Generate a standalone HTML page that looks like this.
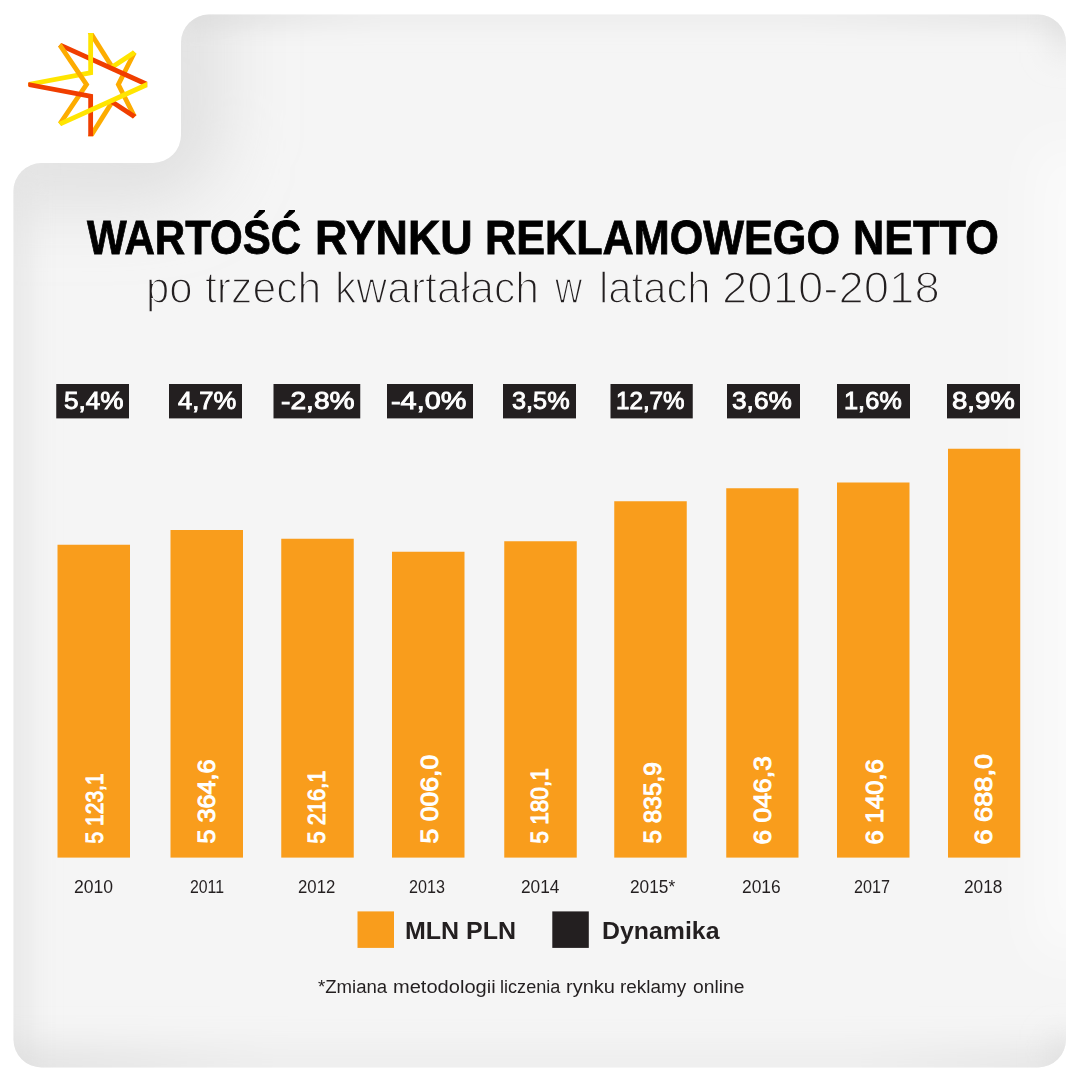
<!DOCTYPE html>
<html><head><meta charset="utf-8"><title>Wartość rynku reklamowego netto</title>
<style>
html,body{margin:0;padding:0;background:#fff}
body{width:1080px;height:1080px;position:relative;overflow:hidden;font-family:"Liberation Sans",sans-serif}
svg{position:absolute;left:0;top:0}
.t{position:absolute;white-space:nowrap;transform-origin:0 0;margin:0;padding:0}
</style></head><body>
<svg width="1080" height="1080" viewBox="0 0 1080 1080">
<defs>
<clipPath id="cc"><path d="M209 14.5 H1038 A28 28 0 0 1 1066 42.5 V1039.5 A28 28 0 0 1 1038 1067.5 H41.5 A28 28 0 0 1 13.5 1039.5 V191 A28 28 0 0 1 41.5 163 H153 A28 28 0 0 0 181 135 V42.5 A28 28 0 0 1 209 14.5 Z"/></clipPath>
<filter id="bl" filterUnits="userSpaceOnUse" x="-60" y="-60" width="1200" height="1200"><feGaussianBlur stdDeviation="16"/></filter>
<filter id="bl3" filterUnits="userSpaceOnUse" x="-150" y="-150" width="1400" height="1400"><feGaussianBlur stdDeviation="40"/></filter>
<filter id="bl4" filterUnits="userSpaceOnUse" x="-60" y="-60" width="1200" height="1200"><feGaussianBlur stdDeviation="20"/></filter>
<filter id="bl5" filterUnits="userSpaceOnUse" x="-100" y="-100" width="1300" height="1300"><feGaussianBlur stdDeviation="24"/></filter>
<filter id="bl2" filterUnits="userSpaceOnUse" x="-60" y="-60" width="1200" height="1200"><feGaussianBlur stdDeviation="12"/></filter>
<linearGradient id="tg" gradientUnits="userSpaceOnUse" x1="181" y1="0" x2="1066" y2="0">
<stop offset="0" stop-color="#d6d6d6"/><stop offset="0.22" stop-color="#e9e9e9"/><stop offset="0.7" stop-color="#e9e9e9"/><stop offset="1" stop-color="#dcdcdc"/></linearGradient>
<linearGradient id="bg" gradientUnits="userSpaceOnUse" x1="13" y1="0" x2="1066" y2="0">
<stop offset="0" stop-color="#d4d4d4"/><stop offset="0.25" stop-color="#e8e8e8"/><stop offset="0.8" stop-color="#e8e8e8"/><stop offset="1" stop-color="#dadada"/></linearGradient>
</defs>
<path d="M209 14.5 H1038 A28 28 0 0 1 1066 42.5 V1039.5 A28 28 0 0 1 1038 1067.5 H41.5 A28 28 0 0 1 13.5 1039.5 V191 A28 28 0 0 1 41.5 163 H153 A28 28 0 0 0 181 135 V42.5 A28 28 0 0 1 209 14.5 Z" fill="#f5f5f5"/>
<g clip-path="url(#cc)">
<path d="M181 -40 V135 A28 28 0 0 1 153 163 H-40" fill="none" stroke="#c8c8c8" stroke-opacity="0.66" stroke-width="60" filter="url(#bl3)"/>
<path d="M13.5 175 V1090" fill="none" stroke="#e2e2e2" stroke-width="24" filter="url(#bl)"/>
<path d="M181 14.5 H1090" fill="none" stroke="url(#tg)" stroke-width="18" filter="url(#bl2)"/>
<path d="M-10 1067.5 H1090" fill="none" stroke="url(#bg)" stroke-width="26" filter="url(#bl4)"/>
<path d="M1066 -20 V52" fill="none" stroke="#dcdcdc" stroke-width="22" filter="url(#bl)"/>
<path d="M1066 1100 V1040" fill="none" stroke="#dcdcdc" stroke-width="22" filter="url(#bl)"/>
<path d="M1066 150 V950" fill="none" stroke="#fff" stroke-opacity="0.65" stroke-width="50" filter="url(#bl5)"/>
</g>
<rect x="57.5" y="544.75" width="72.5" height="312.85" fill="#f99d1c"/><rect x="170.5" y="530" width="72.5" height="327.6" fill="#f99d1c"/><rect x="281.25" y="538.75" width="72.5" height="318.85" fill="#f99d1c"/><rect x="392" y="551.75" width="72.5" height="305.85" fill="#f99d1c"/><rect x="504.25" y="541.25" width="72.5" height="316.35" fill="#f99d1c"/><rect x="614.25" y="501.25" width="72.5" height="356.35" fill="#f99d1c"/><rect x="726.25" y="488.25" width="72.25" height="369.35" fill="#f99d1c"/><rect x="837" y="482.5" width="72.5" height="375.1" fill="#f99d1c"/><rect x="948" y="448.75" width="72.25" height="408.85" fill="#f99d1c"/><rect x="56.25" y="384" width="72.75" height="34.4" fill="#231f20"/><rect x="169" y="384" width="73" height="34.4" fill="#231f20"/><rect x="273.5" y="384" width="86.75" height="34.4" fill="#231f20"/><rect x="387" y="384" width="86" height="34.4" fill="#231f20"/><rect x="503" y="384" width="73" height="34.4" fill="#231f20"/><rect x="610.5" y="384" width="82.25" height="34.4" fill="#231f20"/><rect x="727" y="384" width="73" height="34.4" fill="#231f20"/><rect x="837" y="384" width="73" height="34.4" fill="#231f20"/><rect x="947" y="384" width="73" height="34.4" fill="#231f20"/><rect x="357.5" y="911.4" width="36.5" height="36.5" fill="#f99d1c"/><rect x="552.3" y="911.4" width="36.5" height="36.5" fill="#231f20"/>
<g><polygon points="87.81,32.90 110.57,68.98 114.63,66.42 93.49,32.90" fill="#fdac00"/><polygon points="93.49,136.20 114.63,102.58 110.57,100.02 87.81,136.20" fill="#fdac00"/><polygon points="132.80,50.43 115.66,84.50 132.80,118.57 136.45,115.14 121.04,84.50 136.45,53.86" fill="#fdac00"/><polygon points="132.90,50.52 110.17,65.60 112.83,69.60 136.49,53.89" fill="#ffe500"/><polygon points="136.49,115.11 112.83,99.40 110.17,103.40 132.90,118.48" fill="#f03e00"/><polygon points="58.13,46.82 147.20,87.13 147.20,81.87 61.31,42.99" fill="#f03e00"/><polygon points="28.80,86.83 93.05,74.69 93.05,32.90 88.25,32.90 88.25,70.71 29.02,81.90 28.20,82.89 28.20,86.11" fill="#ffe500"/><polygon points="58.12,46.84 83.60,84.50 58.12,122.16 61.31,126.01 89.40,84.50 61.31,42.99" fill="#fdac00"/><polygon points="29.02,87.10 88.25,98.29 88.25,136.20 93.05,136.20 93.05,94.31 28.80,82.17 28.20,82.89 28.20,86.11" fill="#f03e00"/><polygon points="61.31,126.01 147.20,87.13 147.20,81.87 58.13,122.18" fill="#ffe500"/></g>
</svg>
<div class="t" style="left:87.40px;top:212.81px;font-size:48.3px;line-height:48.3px;font-weight:bold;color:#000;-webkit-text-stroke:0.8px #000;transform:scaleX(0.8709)">WARTOŚĆ</div>
<div class="t" style="left:315.12px;top:212.81px;font-size:48.3px;line-height:48.3px;font-weight:bold;color:#000;-webkit-text-stroke:0.8px #000;transform:scaleX(0.9277)">RYNKU</div>
<div class="t" style="left:484.72px;top:212.81px;font-size:48.3px;line-height:48.3px;font-weight:bold;color:#000;-webkit-text-stroke:0.8px #000;transform:scaleX(0.8941)">REKLAMOWEGO</div>
<div class="t" style="left:853.46px;top:212.81px;font-size:48.3px;line-height:48.3px;font-weight:bold;color:#000;-webkit-text-stroke:0.8px #000;transform:scaleX(0.8956)">NETTO</div>
<div class="t" style="left:146.04px;top:266.05px;font-size:44px;line-height:44px;font-weight:normal;color:#231f20;-webkit-text-stroke:1.6px #f5f5f5;transform:scaleX(0.9534)">po</div>
<div class="t" style="left:205.45px;top:266.05px;font-size:44px;line-height:44px;font-weight:normal;color:#231f20;-webkit-text-stroke:1.6px #f5f5f5;transform:scaleX(0.9702)">trzech</div>
<div class="t" style="left:335.26px;top:266.05px;font-size:44px;line-height:44px;font-weight:normal;color:#231f20;-webkit-text-stroke:1.6px #f5f5f5;transform:scaleX(0.9697)">kwartałach</div>
<div class="t" style="left:555.06px;top:266.05px;font-size:44px;line-height:44px;font-weight:normal;color:#231f20;-webkit-text-stroke:1.6px #f5f5f5;transform:scaleX(0.8591)">w</div>
<div class="t" style="left:598.55px;top:266.05px;font-size:44px;line-height:44px;font-weight:normal;color:#231f20;-webkit-text-stroke:1.6px #f5f5f5;transform:scaleX(0.9505)">latach</div>
<div class="t" style="left:722.13px;top:266.05px;font-size:44px;line-height:44px;font-weight:normal;color:#231f20;-webkit-text-stroke:1.6px #f5f5f5;transform:scaleX(1.0346)">2010-2018</div>
<div class="t" style="left:64.05px;top:388.75px;font-size:24.4px;line-height:24.4px;font-weight:normal;color:#fff;-webkit-text-stroke:0.9px #fff;transform:scaleX(1.0727)">5,4%</div>
<div class="t" style="left:177.80px;top:388.75px;font-size:24.4px;line-height:24.4px;font-weight:normal;color:#fff;-webkit-text-stroke:0.9px #fff;transform:scaleX(1.0500)">4,7%</div>
<div class="t" style="left:281.14px;top:388.75px;font-size:24.4px;line-height:24.4px;font-weight:normal;color:#fff;-webkit-text-stroke:0.9px #fff;transform:scaleX(1.1551)">-2,8%</div>
<div class="t" style="left:390.87px;top:388.75px;font-size:24.4px;line-height:24.4px;font-weight:normal;color:#fff;-webkit-text-stroke:0.9px #fff;transform:scaleX(1.1833)">-4,0%</div>
<div class="t" style="left:512.30px;top:388.75px;font-size:24.4px;line-height:24.4px;font-weight:normal;color:#fff;-webkit-text-stroke:0.9px #fff;transform:scaleX(1.0363)">3,5%</div>
<div class="t" style="left:616.06px;top:388.75px;font-size:24.4px;line-height:24.4px;font-weight:normal;color:#fff;-webkit-text-stroke:0.9px #fff;transform:scaleX(0.9915)">12,7%</div>
<div class="t" style="left:732.30px;top:388.75px;font-size:24.4px;line-height:24.4px;font-weight:normal;color:#fff;-webkit-text-stroke:0.9px #fff;transform:scaleX(1.0764)">3,6%</div>
<div class="t" style="left:843.76px;top:388.75px;font-size:24.4px;line-height:24.4px;font-weight:normal;color:#fff;-webkit-text-stroke:0.9px #fff;transform:scaleX(1.0407)">1,6%</div>
<div class="t" style="left:952.17px;top:388.75px;font-size:24.4px;line-height:24.4px;font-weight:normal;color:#fff;-webkit-text-stroke:0.9px #fff;transform:scaleX(1.1316)">8,9%</div>
<div class="t" style="left:74.10px;top:877.91px;font-size:18.3px;line-height:18.3px;font-weight:normal;color:#231f20;transform:scaleX(0.9605)">2010</div>
<div class="t" style="left:189.80px;top:877.91px;font-size:18.3px;line-height:18.3px;font-weight:normal;color:#231f20;transform:scaleX(0.8660)">2011</div>
<div class="t" style="left:298.10px;top:877.91px;font-size:18.3px;line-height:18.3px;font-weight:normal;color:#231f20;transform:scaleX(0.9160)">2012</div>
<div class="t" style="left:409.30px;top:877.91px;font-size:18.3px;line-height:18.3px;font-weight:normal;color:#231f20;transform:scaleX(0.8814)">2013</div>
<div class="t" style="left:520.60px;top:877.91px;font-size:18.3px;line-height:18.3px;font-weight:normal;color:#231f20;transform:scaleX(0.9456)">2014</div>
<div class="t" style="left:629.80px;top:877.91px;font-size:18.3px;line-height:18.3px;font-weight:normal;color:#231f20;transform:scaleX(0.9440)">2015*</div>
<div class="t" style="left:742.00px;top:877.91px;font-size:18.3px;line-height:18.3px;font-weight:normal;color:#231f20;transform:scaleX(0.9506)">2016</div>
<div class="t" style="left:854.30px;top:877.91px;font-size:18.3px;line-height:18.3px;font-weight:normal;color:#231f20;transform:scaleX(0.8839)">2017</div>
<div class="t" style="left:964.20px;top:877.91px;font-size:18.3px;line-height:18.3px;font-weight:normal;color:#231f20;transform:scaleX(0.9432)">2018</div>
<div class="t" style="left:404.87px;top:918.83px;font-size:24.3px;line-height:24.3px;font-weight:bold;color:#231f20;transform:scaleX(1.0292)">MLN PLN</div>
<div class="t" style="left:602.48px;top:918.83px;font-size:24.3px;line-height:24.3px;font-weight:bold;color:#231f20;transform:scaleX(1.0238)">Dynamika</div>
<div class="t" style="left:318.00px;top:977.00px;font-size:19.2px;line-height:19.2px;font-weight:normal;color:#231f20;transform:scaleX(0.9683)">*Zmiana</div>
<div class="t" style="left:392.70px;top:977.00px;font-size:19.2px;line-height:19.2px;font-weight:normal;color:#231f20;transform:scaleX(1.0457)">metodologii</div>
<div class="t" style="left:499.81px;top:977.00px;font-size:19.2px;line-height:19.2px;font-weight:normal;color:#231f20;transform:scaleX(0.9436)">liczenia</div>
<div class="t" style="left:565.96px;top:977.00px;font-size:19.2px;line-height:19.2px;font-weight:normal;color:#231f20;transform:scaleX(1.0442)">rynku</div>
<div class="t" style="left:619.51px;top:977.00px;font-size:19.2px;line-height:19.2px;font-weight:normal;color:#231f20;transform:scaleX(0.9877)">reklamy</div>
<div class="t" style="left:692.50px;top:977.00px;font-size:19.2px;line-height:19.2px;font-weight:normal;color:#231f20;transform:scaleX(1.0042)">online</div>
<div class="t" style="left:103.60px;top:822.53px;font-size:24.3px;line-height:24.3px;font-weight:normal;color:#fff;-webkit-text-stroke:1px #fff;transform-origin:0 20.57px;transform:rotate(-90deg) scaleX(0.8665)">5 123,1</div>
<div class="t" style="left:215.90px;top:822.53px;font-size:24.3px;line-height:24.3px;font-weight:normal;color:#fff;-webkit-text-stroke:1px #fff;transform-origin:0 20.57px;transform:rotate(-90deg) scaleX(1.0391)">5 364,6</div>
<div class="t" style="left:326.10px;top:822.53px;font-size:24.3px;line-height:24.3px;font-weight:normal;color:#fff;-webkit-text-stroke:1px #fff;transform-origin:0 20.57px;transform:rotate(-90deg) scaleX(0.9013)">5 216,1</div>
<div class="t" style="left:439.00px;top:822.53px;font-size:24.3px;line-height:24.3px;font-weight:normal;color:#fff;-webkit-text-stroke:1px #fff;transform-origin:0 20.57px;transform:rotate(-90deg) scaleX(1.0962)">5 006,0</div>
<div class="t" style="left:548.80px;top:822.53px;font-size:24.3px;line-height:24.3px;font-weight:normal;color:#fff;-webkit-text-stroke:1px #fff;transform-origin:0 20.57px;transform:rotate(-90deg) scaleX(0.9286)">5 180,1</div>
<div class="t" style="left:661.80px;top:822.53px;font-size:24.3px;line-height:24.3px;font-weight:normal;color:#fff;-webkit-text-stroke:1px #fff;transform-origin:0 20.57px;transform:rotate(-90deg) scaleX(1.0043)">5 835,9</div>
<div class="t" style="left:771.80px;top:823.62px;font-size:24.3px;line-height:24.3px;font-weight:normal;color:#fff;-webkit-text-stroke:1px #fff;transform-origin:0 20.57px;transform:rotate(-90deg) scaleX(1.0911)">6 046,3</div>
<div class="t" style="left:884.40px;top:823.58px;font-size:24.3px;line-height:24.3px;font-weight:normal;color:#fff;-webkit-text-stroke:1px #fff;transform-origin:0 20.57px;transform:rotate(-90deg) scaleX(1.0534)">6 140,6</div>
<div class="t" style="left:992.90px;top:823.65px;font-size:24.3px;line-height:24.3px;font-weight:normal;color:#fff;-webkit-text-stroke:1px #fff;transform-origin:0 20.57px;transform:rotate(-90deg) scaleX(1.1175)">6 688,0</div>
</body></html>
